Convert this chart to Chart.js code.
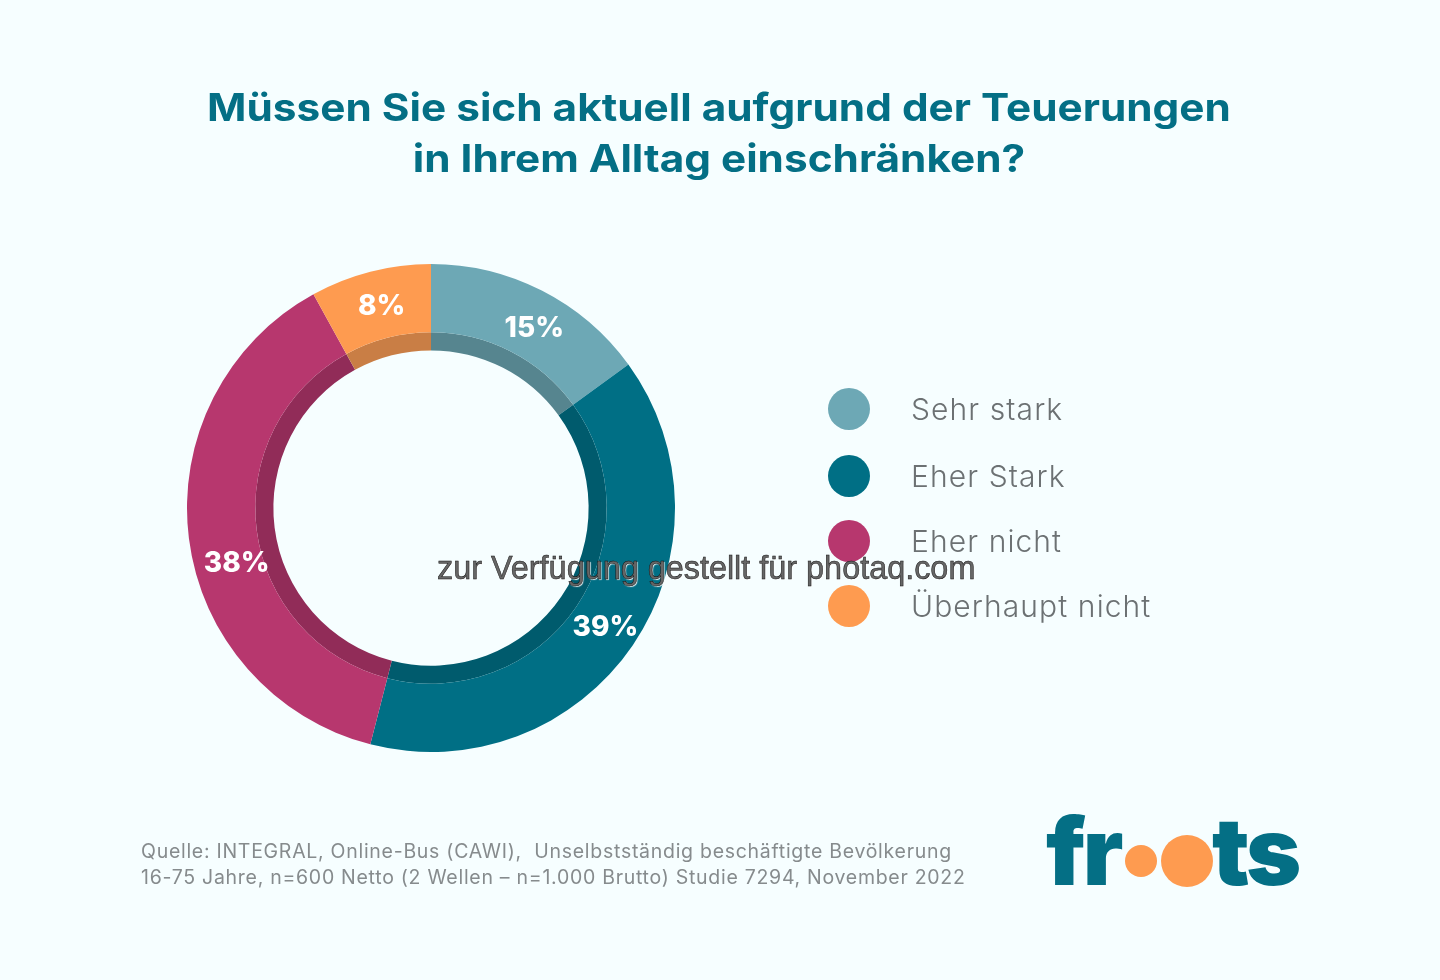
<!DOCTYPE html>
<html lang="de">
<head>
<meta charset="utf-8">
<script src="https://cdn.jsdelivr.net/npm/chart.js@4"></script>
<style>
html,body{margin:0;padding:0;background:#f6feff;}
#page{position:relative;width:1440px;height:980px;overflow:hidden;background:#f6feff;font-family:Inter,sans-serif;}
#soft{position:absolute;inset:0;filter:blur(0.75px);}
#title{position:absolute;left:0;width:1438px;top:82px;text-align:center;color:#046f85;font:700 38.5px/51px Inter,sans-serif;letter-spacing:0;transform:scaleX(1.099);transform-origin:719px 0;}
#chartBox{position:absolute;left:181px;top:257px;width:500px;height:502px;}
.key{position:absolute;left:828px;width:42px;height:42px;border-radius:50%;}
.lab{position:absolute;left:911px;color:#6c7173;font:300 30px/26px Inter,sans-serif;letter-spacing:1.1px;white-space:nowrap;}
.src{position:absolute;left:141px;color:#868b8d;font:400 19.5px/26px Inter,sans-serif;letter-spacing:.72px;white-space:pre;}
#logo{position:absolute;left:0;top:0;color:#046f85;font:900 94px/94px Inter,sans-serif;letter-spacing:-3px;}
#logo span{position:absolute;top:804px;white-space:nowrap;}
.dot{position:absolute;border-radius:50%;background:#fe9b50;}
#mark{position:absolute;left:437px;top:553px;color:#666;-webkit-text-stroke:.5px #111;font:400 32.4px/30px "Liberation Sans",Arial,sans-serif;white-space:nowrap;text-shadow:1px 1px 1px rgba(255,255,255,.9);}
</style>
</head>
<body>
<div id="page">
 <div id="soft">
  <div id="title"></div>
  <div id="chartBox"><canvas id="c"></canvas></div>
  <div id="legend"></div>
  <div id="source"></div>
  <div id="logo"><span style="left:1046px">fr</span><span style="left:1212px">ts</span></div>
  <div class="dot" style="left:1125px;top:845px;width:32px;height:32px"></div>
  <div class="dot" style="left:1161px;top:835px;width:52px;height:52px"></div>
 </div>
 <div id="mark">zur Verfügung gestellt für photaq.com</div>
</div>
<script>
const titleLines = ["Müssen Sie sich aktuell aufgrund der Teuerungen", "in Ihrem Alltag einschränken?"];
const categories = ["Sehr stark", "Eher Stark", "Eher nicht", "Überhaupt nicht"];
const values = [15, 39, 38, 8];
const colors = ["#6da8b5", "#006f85", "#b7376e", "#fe9b50"];
const innerColors = ["#56858f", "#005b6d", "#912c58", "#c97e45"];
const legendY = [388, 455, 520, 585];
const labelFractions = [0.546, 0.497, 0.441, 0.528];
const labelRadialFactors = [1, 1, 0.96, 1];
const sourceLines = [
  "Quelle: INTEGRAL, Online-Bus (CAWI),  Unselbstständig beschäftigte Bevölkerung",
  "16-75 Jahre, n=600 Netto (2 Wellen – n=1.000 Brutto) Studie 7294, November 2022"
];

document.getElementById('title').innerHTML = titleLines.join('<br>');
document.getElementById('legend').innerHTML = categories.map((c, i) =>
  `<div class="key" style="top:${legendY[i]}px;background:${colors[i]}"></div>` +
  `<div class="lab" style="top:${legendY[i] + 8}px">${c}</div>`).join('');
document.getElementById('source').innerHTML = sourceLines.map((s, i) =>
  `<div class="src" style="top:${838 + i * 26}px">${s}</div>`).join('');

const labelPlugin = {
  id: 'sliceLabels',
  afterDatasetsDraw(chart) {
    const ctx = chart.ctx, arcs = chart.getDatasetMeta(0).data;
    ctx.save();
    ctx.font = '800 28px Inter, sans-serif';
    ctx.fillStyle = '#ffffff';
    ctx.textAlign = 'center';
    ctx.textBaseline = 'middle';
    arcs.forEach((a, i) => {
      const p = a.getProps(['x','y','startAngle','endAngle','innerRadius','outerRadius'], true);
      const ang = p.startAngle + (p.endAngle - p.startAngle) * labelFractions[i];
      const r = (p.innerRadius + p.outerRadius) / 2 * labelRadialFactors[i];
      ctx.fillText(values[i] + '%', p.x + Math.cos(ang) * r, p.y + Math.sin(ang) * r + 3);
    });
    ctx.restore();
  }
};

new Chart(document.getElementById('c'), {
  type: 'doughnut',
  data: {
    labels: categories,
    datasets: [
      { data: values, backgroundColor: colors, borderWidth: 0, weight: 68 },
      { data: values, backgroundColor: innerColors, borderWidth: 0, weight: 18 }
    ]
  },
  options: {
    responsive: true,
    maintainAspectRatio: false,
    animation: false,
    cutout: '64.6%',
    layout: { padding: 6 },
    plugins: { legend: { display: false }, tooltip: { enabled: false } }
  },
  plugins: [labelPlugin]
});
</script>
</body>
</html>
